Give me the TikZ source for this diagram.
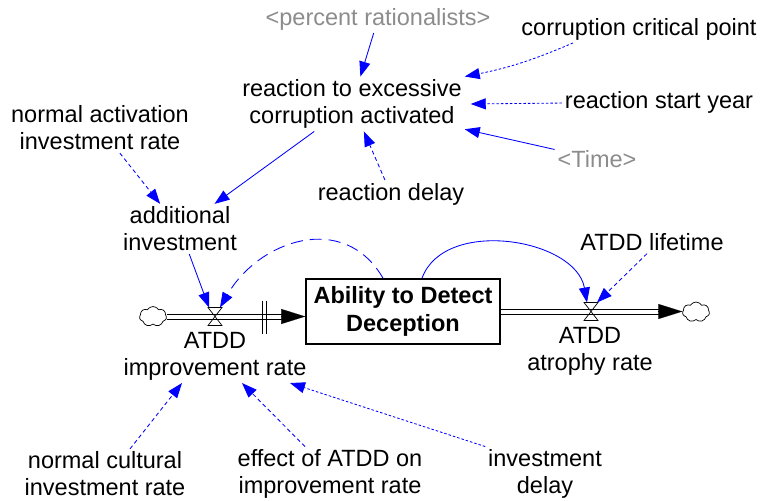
\documentclass[tikz,border=0pt]{standalone}
\usepackage{fontspec}
\setmainfont{Liberation Sans}
\usetikzlibrary{arrows.meta,shapes.symbols}
\definecolor{linkblue}{RGB}{0,0,255}
\definecolor{shadowgray}{RGB}{140,140,140}
\begin{document}
\begin{tikzpicture}[x=1pt,y=-1pt,
  lbl/.style={align=center, inner sep=0pt, outer sep=3pt, font=\fontsize{23.5}{27}\selectfont},
  ghost/.style={lbl, text=shadowgray},
  infl/.style={draw=linkblue, line width=0.85pt, -{Triangle[length=15pt,width=11pt]}, fill=none},
  dashlink/.style={infl, dash pattern=on 4pt off 3pt},
  dotlink/.style={infl, dash pattern=on 2.5pt off 2pt},
  longdash/.style={infl, dash pattern=on 12pt off 7pt},
  stockbox/.style={draw, line width=1.6pt, minimum width=194pt, minimum height=65pt, inner sep=0pt, align=center, font=\fontsize{23.5}{28}\selectfont\bfseries},
  valvebox/.style={minimum width=14pt, minimum height=18pt, inner sep=0pt, outer sep=0pt},
  sink/.style={cloud, draw, cloud puffs=7, cloud puff arc=120, aspect=1.4, minimum width=27pt, minimum height=20pt, inner sep=0pt, line width=0.7pt},
  pipeline/.style={draw=black, line width=1pt},
  pipehead/.style={line width=0.1pt, -{Triangle[length=24pt,width=15pt]}}
]
\useasboundingbox (0,0) rectangle (775,500);

% labels
\node[ghost] (pr) at (378,19) {<percent rationalists>};
\node[lbl] (ccp) at (639,29) {corruption critical point};
\node[lbl] (rx) at (352,104) {reaction to excessive\\corruption activated};
\node[lbl] (rsy) at (659,102) {reaction start year};
\node[ghost] (time) at (597,159) {<Time>};
\node[lbl] (nai) at (100,128) {normal activation\\investment rate};
\node[lbl] (rd) at (391,194) {reaction delay};
\node[lbl] (ai) at (180,229) {additional\\investment};
\node[lbl] (atddl) at (652,242) {ATDD lifetime};
\node[lbl] (ir) at (215,356) {ATDD\\improvement rate};
\node[lbl] (ar) at (590,351) {ATDD\\atrophy rate};
\node[lbl] (ncir) at (105,474) {normal cultural\\investment rate};
\node[lbl] (eff) at (330,474) {effect of ATDD on\\improvement rate};
\node[lbl] (invd) at (545,474) {investment\\delay};

% stock, valves, clouds
\node[stockbox] (stock) at (403,311.5) {Ability to Detect\\Deception};
\node[valvebox] (v1) at (215,316.5) {};
\node[valvebox] (v2) at (591,311.5) {};
\node[sink] (c1) at (153,316.5) {};
\node[sink] (c2) at (696,312) {};

% pipes (two parallel lines)
\draw[pipeline] ([yshift=-2.5]c1.east |- v1) -- ([xshift=-23,yshift=-2.5]stock.west |- v1);
\draw[pipeline] ([yshift=2.5]c1.east |- v1) -- ([xshift=-23,yshift=2.5]stock.west |- v1);
\draw[pipehead] ([xshift=-24]stock.west |- v1) -- (stock.west |- v1);
\draw[line width=0.8pt] ([xshift=-43]stock.west |- v1) ++(0,-16) -- ++(0,33);
\draw[line width=0.8pt] ([xshift=-39]stock.west |- v1) ++(0,-16) -- ++(0,33);
\draw[pipeline] ([yshift=-2.5]stock.east |- v2) -- ([xshift=-23,yshift=-2.5]c2.west |- v2);
\draw[pipeline] ([yshift=2.5]stock.east |- v2) -- ([xshift=-23,yshift=2.5]c2.west |- v2);
\draw[pipehead] ([xshift=-24]c2.west |- v2) -- (c2.west |- v2);
\draw[line width=0.7pt] (v1.north west) -- (v1.north east) -- (v1.south west) -- (v1.south east) -- cycle;
\draw[line width=0.7pt] (v2.north west) -- (v2.north east) -- (v2.south west) -- (v2.south east) -- cycle;

% influences
\draw[infl] (pr) -- (rx);
\draw[dotlink] ([xshift=-66]ccp.south) to[bend left=6] (rx.north east);
\draw[dotlink] (rsy) -- ([xshift=6]rx.east);
\draw[infl] (time) -- (rx);
\draw[dashlink] (rd) -- (rx);
\draw[infl] (rx) -- (ai);
\draw[dashlink] (nai) -- (ai);
\draw[infl] (ai) -- ([xshift=-6]v1.north);
\draw[longdash] ([xshift=-20]stock.north) to[out=120,in=60,looseness=1.2] ([xshift=5]v1.north);
\draw[infl] ([xshift=19]stock.north) to[out=70,in=100] ([xshift=-4]v2.north);
\draw[dashlink] ([xshift=-5]atddl.south) -- ([xshift=6]v2.north);
\draw[dashlink] ([xshift=25]ncir.north) -- ([xshift=-33]ir.south);
\draw[dashlink] ([xshift=-25]eff.north) -- ([xshift=27]ir.south);
\draw[dotlink] (invd.north west) -- ([xshift=75]ir.south);
\end{tikzpicture}
\end{document}
